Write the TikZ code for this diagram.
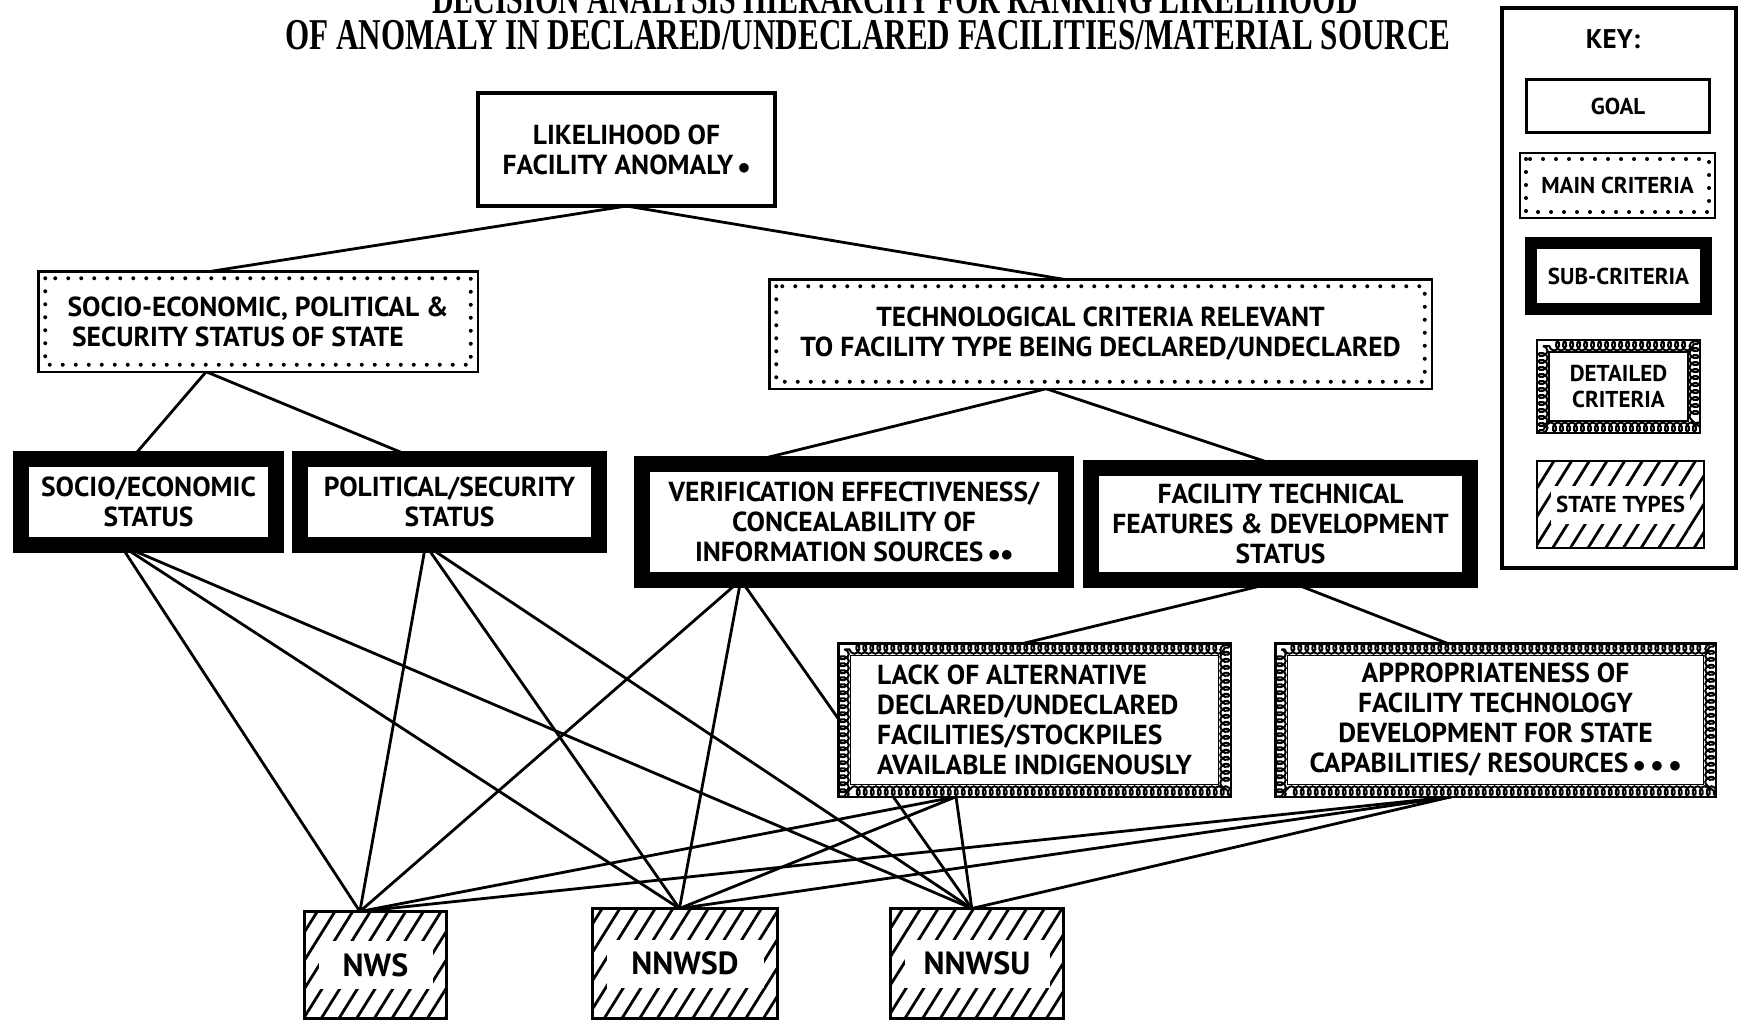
\documentclass[tikz,border=0pt]{standalone}
\usepackage{fontspec}
\setmainfont{PT Sans}
\newfontfamily\titlefont{Liberation Serif}
\usetikzlibrary{calc,patterns.meta,decorations.pathmorphing,backgrounds}
\tikzset{
  box/.style={inner sep=0pt, outer sep=0pt, align=center, font=\bfseries\fontsize{27.5}{30}\selectfont},
  keytext/.style={font=\bfseries\fontsize{23}{26}\selectfont},
  goalbox/.style={box, draw, line width=4pt, fill=white},
  dotsinset/.style={path picture={\draw[line width=4pt, dash pattern=on 0pt off 13pt, line cap=round]
      ([shift={(#1,-#1)}]path picture bounding box.north west) rectangle
      ([shift={(-#1,#1)}]path picture bounding box.south east);}},
  maincrit/.style={box, draw, line width=2.5pt, fill=white, dotsinset=7pt},
  subcrit/.style={box, draw, line width=16pt, fill=white},
  detband/.style={path picture={
      \draw[line width=2pt, decorate, decoration={coil, aspect=0.7, segment length=7pt, amplitude=4.5pt}]
        ([shift={(6pt,-6pt)}]path picture bounding box.north west) rectangle
        ([shift={(-6pt,6pt)}]path picture bounding box.south east);
      \draw[line width=1.2pt]
        ([shift={(12pt,-12pt)}]path picture bounding box.north west) rectangle
        ([shift={(-12pt,12pt)}]path picture bounding box.south east);}},
  detcrit/.style={box, draw, line width=2.5pt, fill=white, detband},
  hatchband/.style={path picture={
      \fill[white] ($(path picture bounding box.west)+(14pt,#1)$) rectangle
                   ($(path picture bounding box.east)+(-14pt,-#1)$);}},
  statebox/.style={box, draw, line width=3pt, pattern={Lines[angle=58,distance=15pt,line width=2.8pt]},
      hatchband=24pt, font=\bfseries\fontsize{32}{34}\selectfont},
  conn/.style={line width=2.8pt, line cap=round}
}
\begin{document}
\begin{tikzpicture}[x=1pt,y=-1pt]
\useasboundingbox (0,0) rectangle (1745,1023);
\clip (0,0) rectangle (1745,1023);

% title
\node[anchor=base, inner sep=0pt, font=\titlefont\bfseries\fontsize{44}{44}\selectfont] (title1) at (895,13)
  {\scalebox{0.68}[1]{DECISION ANALYSIS HIERARCHY FOR RANKING LIKELIHOOD}};
\node[anchor=base, inner sep=0pt, font=\titlefont\bfseries\fontsize{44}{44}\selectfont] (title2) at (868,49)
  {\scalebox{0.707}[1]{OF ANOMALY IN DECLARED/UNDECLARED FACILITIES/MATERIAL SOURCE}};

% goal
\node[goalbox, minimum width=297pt, minimum height=113pt] (goal) at (626.5,149.5)
  {LIKELIHOOD OF\\FACILITY ANOMALY\,$\bullet$};

% main criteria
\node[maincrit, align=left, minimum width=439.5pt, minimum height=100.5pt] (ml) at (258,321.5)
  {SOCIO-ECONOMIC, POLITICAL \&\\\,SECURITY STATUS OF STATE};
\node[maincrit, minimum width=662.5pt, minimum height=109.5pt] (mr) at (1100.5,334)
  {TECHNOLOGICAL CRITERIA RELEVANT\\TO FACILITY TYPE BEING DECLARED/UNDECLARED};

% sub criteria
\node[subcrit, minimum width=255pt, minimum height=86pt] (s1) at (148.5,502)
  {SOCIO/ECONOMIC\\STATUS};
\node[subcrit, minimum width=299pt, minimum height=86pt] (s2) at (449.5,502)
  {POLITICAL/SECURITY\\STATUS};
\node[subcrit, minimum width=424pt, minimum height=116pt] (s3) at (854,522)
  {VERIFICATION EFFECTIVENESS/\\CONCEALABILITY OF\\INFORMATION SOURCES\,$\bullet\bullet$};
\node[subcrit, minimum width=379pt, minimum height=112pt] (s4) at (1280.5,524)
  {FACILITY TECHNICAL\\FEATURES \& DEVELOPMENT\\STATUS};

% detailed criteria
\node[detcrit, align=left, minimum width=392.5pt, minimum height=153.5pt] (d1) at (1034.5,720)
  {LACK OF ALTERNATIVE\\DECLARED/UNDECLARED\\FACILITIES/STOCKPILES\\AVAILABLE INDIGENOUSLY};
\node[detcrit, minimum width=440.5pt, minimum height=153.5pt] (d2) at (1495.5,720)
  {APPROPRIATENESS OF\\FACILITY TECHNOLOGY\\DEVELOPMENT FOR STATE\\CAPABILITIES/ RESOURCES\,$\bullet\bullet\bullet$};

% state types
\node[statebox, minimum width=142pt, minimum height=107pt] (t1) at (375.5,965) {NWS};
\node[statebox, minimum width=185pt, minimum height=110pt] (t2) at (685,963.5) {NNWSD};
\node[statebox, minimum width=173pt, minimum height=110pt] (t3) at (977,963.5) {NNWSU};

% connectors
\begin{scope}[on background layer]
\draw[conn] (goal.south) -- ($(ml.north west)!0.394!(ml.north east)$);
\draw[conn] (goal.south) -- ($(mr.north west)!0.444!(mr.north east)$);
\draw[conn] ($(ml.south west)!0.382!(ml.south east)$) -- ($(s1.north west)!0.432!(s1.north east)$);
\draw[conn] ($(ml.south west)!0.382!(ml.south east)$) -- ($(s2.north west)!0.392!(s2.north east)$);
\draw[conn] ($(mr.south west)!0.418!(mr.south east)$) -- ($(s3.north west)!0.233!(s3.north east)$);
\draw[conn] ($(mr.south west)!0.418!(mr.south east)$) -- ($(s4.north west)!0.512!(s4.north east)$);
\draw[conn] ($(s4.south west)!0.512!(s4.south east)$) -- ($(d1.north west)!0.473!(d1.north east)$);
\draw[conn] ($(s4.south west)!0.512!(s4.south east)$) -- ($(d2.north west)!0.39!(d2.north east)$);
\foreach \src/\f in {s1/0.39, s2/0.42, s3/0.233, d1/0.30, d2/0.40}{
  \draw[conn] ($(\src.south west)!\f!(\src.south east)$) -- ($(t1.north west)!0.39!(t1.north east)$);
  \draw[conn] ($(\src.south west)!\f!(\src.south east)$) -- ($(t2.north west)!0.47!(t2.north east)$);
  \draw[conn] ($(\src.south west)!\f!(\src.south east)$) -- ($(t3.north west)!0.47!(t3.north east)$);
}
\end{scope}

% key
\node[draw, line width=4pt, minimum width=234pt, minimum height=560pt, inner sep=0pt] (key) at (1619,288) {};
\node[font=\bfseries\fontsize{27}{30}\selectfont] (keylabel) at (1613,39) {KEY:};
\node[box, keytext, draw, line width=3.5pt, minimum width=183pt, minimum height=53pt] (kgoal) at (1618,106) {GOAL};
\node[box, keytext, draw, line width=2pt, dotsinset=6pt, minimum width=195pt, minimum height=65pt] (kmain) at (1617.5,185.5) {MAIN CRITERIA};
\node[box, keytext, draw, line width=12pt, minimum width=175pt, minimum height=66pt] (ksub) at (1618.5,276) {SUB-CRITERIA};
\node[box, keytext, draw, line width=2pt, detband, minimum width=163pt, minimum height=93pt] (kdet) at (1618.5,386.5) {DETAILED\\CRITERIA};
\node[box, keytext, draw, line width=2.5pt, pattern={Lines[angle=58,distance=15pt,line width=2.8pt]}, hatchband=19pt, minimum width=167pt, minimum height=87pt] (kstate) at (1620.5,504.5) {STATE TYPES};
\end{tikzpicture}
\end{document}
